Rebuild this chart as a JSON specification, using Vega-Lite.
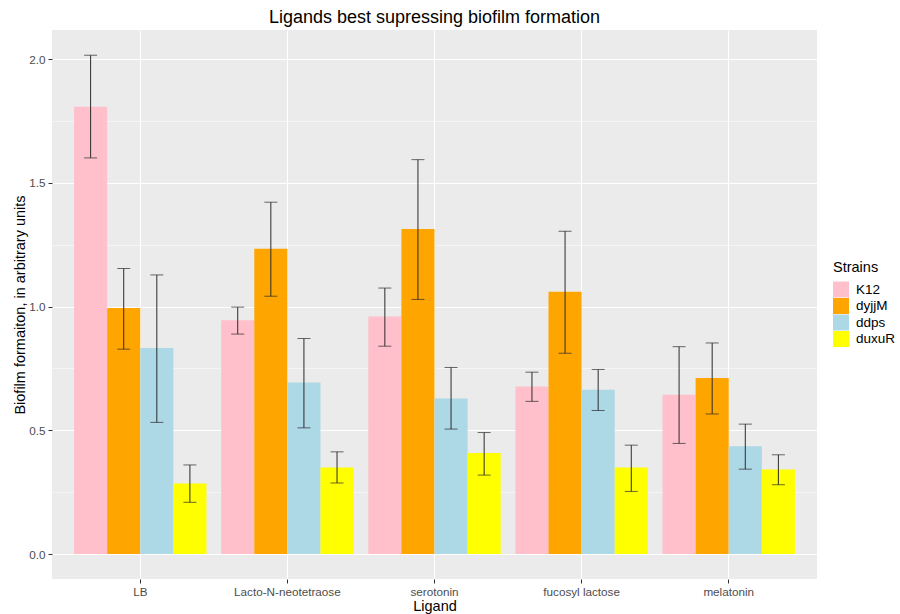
{
  "$schema": "https://vega.github.io/schema/vega-lite/v6.json",
  "autosize": "none",
  "width": 765,
  "height": 549,
  "padding": {"left": 52, "top": 30, "right": 83, "bottom": 35},
  "background": "white",
  "title": {"text": "Ligands best supressing biofilm formation", "anchor": "middle", "fontSize": 18, "fontWeight": "normal", "font": "Liberation Sans", "color": "black", "offset": 3},
  "config": {
    "font": "Liberation Sans",
    "view": {"fill": "#EBEBEB", "stroke": null},
    "axis": {"labelFont": "Liberation Sans", "titleFont": "Liberation Sans", "labelColor": "#4D4D4D", "labelFontSize": 11.7, "titleFontSize": 14.5, "titleFontWeight": "normal", "titleColor": "black", "tickColor": "#333333", "tickSize": 4, "labelPadding": 3, "domain": false, "gridColor": "white", "gridWidth": 1.1},
    "legend": {"titleFont": "Liberation Sans", "labelFont": "Liberation Sans", "titleFontSize": 14.5, "titleFontWeight": "normal", "labelFontSize": 13.5, "titleColor": "black", "labelColor": "black"}
  },
  "data": {"values": [
    {"ligand": "LB", "strain": "K12", "value": 1.808, "lo": 1.601, "hi": 2.016},
    {"ligand": "LB", "strain": "dyjjM", "value": 0.994, "lo": 0.828, "hi": 1.154},
    {"ligand": "LB", "strain": "ddps", "value": 0.833, "lo": 0.532, "hi": 1.128},
    {"ligand": "LB", "strain": "duxuR", "value": 0.285, "lo": 0.209, "hi": 0.360},
    {"ligand": "Lacto-N-neotetraose", "strain": "K12", "value": 0.945, "lo": 0.889, "hi": 0.998},
    {"ligand": "Lacto-N-neotetraose", "strain": "dyjjM", "value": 1.234, "lo": 1.042, "hi": 1.422},
    {"ligand": "Lacto-N-neotetraose", "strain": "ddps", "value": 0.693, "lo": 0.510, "hi": 0.871},
    {"ligand": "Lacto-N-neotetraose", "strain": "duxuR", "value": 0.350, "lo": 0.287, "hi": 0.413},
    {"ligand": "serotonin", "strain": "K12", "value": 0.960, "lo": 0.840, "hi": 1.075},
    {"ligand": "serotonin", "strain": "dyjjM", "value": 1.314, "lo": 1.029, "hi": 1.594},
    {"ligand": "serotonin", "strain": "ddps", "value": 0.629, "lo": 0.505, "hi": 0.754},
    {"ligand": "serotonin", "strain": "duxuR", "value": 0.408, "lo": 0.319, "hi": 0.491},
    {"ligand": "fucosyl lactose", "strain": "K12", "value": 0.677, "lo": 0.617, "hi": 0.735},
    {"ligand": "fucosyl lactose", "strain": "dyjjM", "value": 1.060, "lo": 0.811, "hi": 1.305},
    {"ligand": "fucosyl lactose", "strain": "ddps", "value": 0.664, "lo": 0.580, "hi": 0.746},
    {"ligand": "fucosyl lactose", "strain": "duxuR", "value": 0.350, "lo": 0.253, "hi": 0.440},
    {"ligand": "melatonin", "strain": "K12", "value": 0.644, "lo": 0.447, "hi": 0.838},
    {"ligand": "melatonin", "strain": "dyjjM", "value": 0.711, "lo": 0.566, "hi": 0.853},
    {"ligand": "melatonin", "strain": "ddps", "value": 0.436, "lo": 0.343, "hi": 0.525},
    {"ligand": "melatonin", "strain": "duxuR", "value": 0.342, "lo": 0.280, "hi": 0.401}
  ]},
  "encoding": {
    "x": {"field": "ligand", "type": "nominal", "sort": ["LB", "Lacto-N-neotetraose", "serotonin", "fucosyl lactose", "melatonin"],
      "scale": {"paddingInner": 0.1, "paddingOuter": 0.15},
      "axis": {"title": "Ligand", "labelAngle": 0, "grid": true, "bandPosition": 0.5, "labelPadding": 3, "titlePadding": 2}},
    "xOffset": {"field": "strain", "type": "nominal", "sort": ["K12", "dyjjM", "ddps", "duxuR"], "scale": {"paddingInner": 0, "paddingOuter": 0}}
  },
  "layer": [
    {
      "mark": {"type": "bar"},
      "encoding": {
        "y": {"field": "value", "type": "quantitative", "scale": {"domain": [-0.101, 2.118], "nice": false, "zero": false},
          "axis": {"title": "Biofilm formaiton, in arbitrary units", "values": [0, 0.5, 1, 1.5, 2], "format": ".1f", "grid": true, "titlePadding": 1}},
        "color": {"field": "strain", "type": "nominal", "sort": ["K12", "dyjjM", "ddps", "duxuR"],
          "scale": {"domain": ["K12", "dyjjM", "ddps", "duxuR"], "range": ["#FFC0CB", "#FFA500", "#ADD8E6", "#FFFF00"]},
          "legend": {"title": "Strains", "orient": "none", "legendX": 781, "legendY": 231, "titlePadding": 6, "symbolType": "square", "symbolSize": 256, "symbolStrokeWidth": 0, "symbolOpacity": 1, "rowPadding": 0.5, "labelOffset": 7}}
      }
    },
    {
      "mark": {"type": "rule", "color": "#2B2B2B", "strokeWidth": 1},
      "encoding": {
        "y": {"field": "lo", "type": "quantitative",
          "axis": {"orient": "left", "values": [0.25, 0.75, 1.25, 1.75], "grid": true, "gridWidth": 0.5, "labels": false, "ticks": false, "domain": false, "title": null}},
        "y2": {"field": "hi"}
      }
    },
    {
      "mark": {"type": "tick", "orient": "horizontal", "color": "#2B2B2B", "size": 13, "thickness": 1},
      "encoding": {"y": {"field": "hi", "type": "quantitative", "axis": null}}
    },
    {
      "mark": {"type": "tick", "orient": "horizontal", "color": "#2B2B2B", "size": 13, "thickness": 1},
      "encoding": {"y": {"field": "lo", "type": "quantitative", "axis": null}}
    }
  ],
  "resolve": {"axis": {"y": "independent"}}
}
